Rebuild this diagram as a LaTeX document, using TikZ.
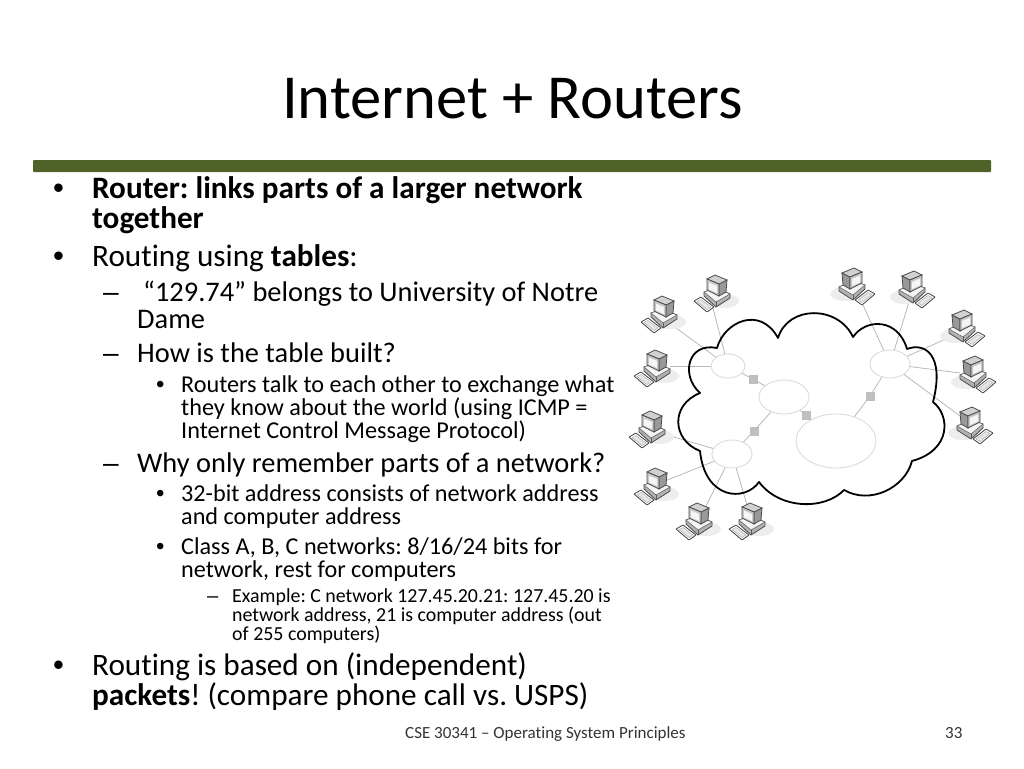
\documentclass[tikz,border=0pt]{standalone}
\usepackage{fontspec}
\setmainfont{Carlito}[Ligatures=NoCommon]
\newfontfamily\markfont{Liberation Sans}
\usetikzlibrary{shapes.geometric}
\definecolor{barolive}{HTML}{4F6228}
\tikzset{
	line/.style={anchor=base west, inner sep=0pt, text=black},
	lvlone/.style={line, font=\fontsize{31.2}{30}\selectfont},
	lvltwo/.style={line, font=\fontsize{28.4}{30}\selectfont},
	lvlthree/.style={line, font=\fontsize{24.2}{30}\selectfont},
	lvlfour/.style={line, font=\fontsize{19.9}{30}\selectfont},
	foot/.style={line, font=\fontsize{17}{20}\selectfont, text=black!80},
	bulletmark/.style={line, font=\markfont\fontsize{#1}{30}\selectfont},
	hub/.style={draw=black!14, line width=0.9pt, ellipse, inner sep=0pt},
	relay/.style={draw=black!25, fill=black!25, minimum size=7.5pt, inner sep=0pt},
	link/.style={draw=black!28, line width=0.8pt},
	pccomp/.pic={
		\fill[black!7] (5,9) ellipse (15 and 7);
		\draw[black!75, fill=white, line width=0.8pt, rounded corners=0.5pt] (-25,9) -- (-18,5) -- (-5,15) -- (-12,20) -- cycle;
		\draw[black!35, fill=black!10, line width=0.4pt] (-22,9.5) -- (-18,7.5) -- (-8,15) -- (-12,17.5) -- cycle;
		\draw[black!70, fill=black!30, line width=0.8pt] (-15,0) -- (-15,4) -- (-3,15) -- (11,6) -- (11,2) -- (-3,-4) -- cycle;
		\draw[black!60, fill=black!4, line width=0.6pt] (-15,0) -- (-3,10) -- (11,2) -- (-3,-4) -- cycle;
		\draw[black!65, line width=0.5pt] (-3,10) -- (-3,15);
		\draw[black!70, fill=black!40, line width=0.8pt] (0,-8) -- (8,-12) -- (7,0) -- (0,4) -- cycle;
		\draw[black!70, fill=black!18, line width=0.8pt] (-12,-13) -- (-4,-17) -- (8,-12) -- (0,-8) -- cycle;
		\draw[black!70, fill=black!22, line width=0.8pt] (-12,-13) -- (0,-8) -- (0,4) -- (-12,-2) -- cycle;
		\fill[black!4] (-10,-9.5) -- (-2,-6) -- (-2,1) -- (-10,-2.5) -- cycle;
	}
}
\begin{document}
\frenchspacing
\begin{tikzpicture}[x=1pt, y=-1pt]
	\useasboundingbox (0,0) rectangle (1024,768);

	\node[line, font=\fontsize{62.6}{70}\selectfont] (title) at (282,118) {Internet + Routers};
	\fill[rounded corners=1pt, fill=barolive] (33,160) rectangle (991,172);

	\node[bulletmark=31] (b1) at (53,198) {•};
	\node[lvlone] (l1) at (92,198) {\textbf{Router: links parts of a larger network}};
	\node[lvlone] (l2) at (92,228) {\textbf{together}};
	\node[bulletmark=31] (b2) at (53,266) {•};
	\node[lvlone] (l3) at (92,266) {Routing using \textbf{tables}:};
	\node[bulletmark=28] (d1) at (103,301) {–};
	\node[lvltwo] (l4) at (143,301) {“129.74” belongs to University of Notre};
	\node[lvltwo] (l5) at (137,328) {Dame};
	\node[bulletmark=28] (d2) at (103,362) {–};
	\node[lvltwo] (l6) at (137,362) {How is the table built?};
	\node[bulletmark=24] (b3) at (156,392) {•};
	\node[lvlthree] (l7) at (181,392) {Routers talk to each other to exchange what};
	\node[lvlthree] (l8) at (181,415) {they know about the world (using ICMP =};
	\node[lvlthree] (l9) at (181,438) {Internet Control Message Protocol)};
	\node[bulletmark=28] (d3) at (103,472) {–};
	\node[lvltwo] (l10) at (137,472) {Why only remember parts of a network?};
	\node[bulletmark=24] (b4) at (156,501) {•};
	\node[lvlthree] (l11) at (181,501) {32-bit address consists of network address};
	\node[lvlthree] (l12) at (181,524) {and computer address};
	\node[bulletmark=24] (b5) at (156,554) {•};
	\node[lvlthree] (l13) at (181,554) {Class A, B, C networks: 8/16/24 bits for};
	\node[lvlthree] (l14) at (181,577) {network, rest for computers};
	\node[bulletmark=20] (d4) at (207,602) {–};
	\node[lvlfour] (l15) at (232,602) {Example: C network 127.45.20.21: 127.45.20 is};
	\node[lvlfour] (l16) at (232,621) {network address, 21 is computer address (out};
	\node[lvlfour] (l17) at (232,640) {of 255 computers)};
	\node[bulletmark=31] (b6) at (53,675) {•};
	\node[lvlone] (l18) at (92,675) {Routing is based on (independent)};
	\node[lvlone] (l19) at (92,705) {\textbf{packets}! (compare phone call vs. USPS)};

	\node[foot] (course) at (405,738) {CSE 30341 – Operating System Principles};
	\node[foot] (page) at (945,738) {33};

	% hubs and relays
	\node[hub, minimum width=34pt, minimum height=24pt] (hubA) at (728,366) {};
	\node[hub, minimum width=50pt, minimum height=34pt] (hubB) at (784,397) {};
	\node[hub, minimum width=40pt, minimum height=28pt] (hubC) at (890,364) {};
	\node[hub, minimum width=40pt, minimum height=28pt] (hubD) at (732,454) {};
	\node[hub, minimum width=80pt, minimum height=54pt] (hubE) at (836,441) {};
	\node[relay] (relA) at (753,379) {};
	\node[relay] (relB) at (870,396) {};
	\node[relay] (relC) at (754,431) {};
	\node[relay] (relD) at (806,415) {};

	\draw[link] (hubA) -- (relA) -- (hubB);
	\draw[link] (hubB) -- (relC) -- (hubD);
	\draw[link] (hubB) -- (relD) -- (hubE);
	\draw[link] (hubC) -- (relB) -- (hubE);

	% computers: name, position, where its line starts, hub
	\foreach \pcname/\pcx/\pcy/\portx/\porty/\hubname in {pa/719/292/713/308/hubA, pb/666/313/672/325/hubA, pc/659/367/670/366/hubA, pd/654/428/667/435/hubD, pe/659/485/665/481/hubD, pf/701/520/705/508/hubD, pg/754/520/747/505/hubD} {
		\coordinate (\pcname) at (\portx,\porty);
		\draw[link] (\pcname) -- (\hubname);
		\pic at (\pcx,\pcy) {pccomp};
	}
	\foreach \pcname/\pcx/\pcy/\portx/\porty/\hubname in {ph/850/285/863/305/hubC, pi/910/288/909/302/hubC, pj/960/327/948/338/hubC, pk/971/373/960/373/hubC, pl/968/424/960/416/hubC} {
		\coordinate (\pcname) at (\portx,\porty);
		\draw[link] (\pcname) -- (\hubname);
		\pic[xscale=-1] at (\pcx,\pcy) {pccomp};
	}

	% cloud
	\draw[black, line width=1.8pt, line join=round]
		(717,348) .. controls (724,322) and (760,305) .. (778,338)
		.. controls (788,305) and (838,305) .. (853,337)
		.. controls (866,318) and (898,318) .. (907,349)
		.. controls (925,342) and (945,355) .. (933,402)
		.. controls (950,415) and (952,450) .. (912,461)
		.. controls (905,488) and (870,505) .. (844,490)
		.. controls (825,510) and (780,510) .. (759,482)
		.. controls (745,502) and (705,500) .. (700,451)
		.. controls (672,440) and (670,405) .. (700,393)
		.. controls (680,375) and (688,342) .. (717,348) -- cycle;
\end{tikzpicture}
\end{document}
